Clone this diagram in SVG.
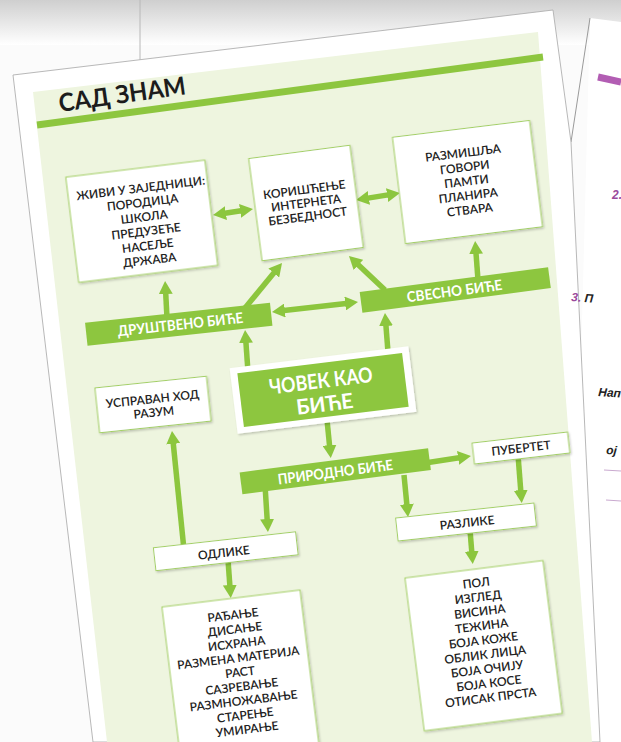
<svg xmlns="http://www.w3.org/2000/svg" width="621" height="742" viewBox="0 0 621 742">
<defs>
<style>
.box{fill:#fff;stroke:#a3cf63;stroke-width:1;filter:url(#sh)}
.bar{fill:#8dc63f}
.t{font-family:Lato,"Liberation Sans",sans-serif;font-size:12px;font-weight:600;fill:#222;text-anchor:middle}
.bt{font-family:Lato,"Liberation Sans",sans-serif;font-size:14.5px;font-weight:700;fill:#fff;text-anchor:middle}
.ar{stroke:#8cc63e;stroke-width:5.5;fill:none;marker-end:url(#ah)}
.dar{stroke:#8cc63e;stroke-width:5.5;fill:none;marker-end:url(#ah);marker-start:url(#ah)}
.np{font-family:"Liberation Sans",sans-serif;font-size:12px;font-weight:700;font-style:italic;fill:#222}
.pu{fill:#9a4a9c}
</style>
<marker id="ah" viewBox="0 0 14 14" refX="1" refY="7" markerWidth="14" markerHeight="14" markerUnits="userSpaceOnUse" orient="auto-start-reverse">
<path d="M0,0 L13,7 L0,14 z" fill="#8cc63e"/>
</marker>
<filter id="sh" x="-10%" y="-10%" width="125%" height="130%">
<feDropShadow dx="1" dy="1.5" stdDeviation="1" flood-color="#000" flood-opacity="0.22"/>
</filter>
<linearGradient id="topg" x1="0" y1="0" x2="0" y2="1">
<stop offset="0" stop-color="#cfcfcf"/>
<stop offset="1" stop-color="#ffffff"/>
</linearGradient>
</defs>

<g id="background">
<rect x="0" y="0" width="621" height="742" fill="#fbfbfb"/>
<rect x="0" y="0" width="621" height="45" fill="url(#topg)"/>
<line x1="140" y1="0" x2="140" y2="64" stroke="#b8b8b8" stroke-width="1"/>
<polygon points="590,18 621,22 621,742 571,742" fill="#ffffff"/>
<line x1="590" y1="18" x2="571" y2="142" stroke="#9a9a9a" stroke-width="1"/>
<line x1="598" y1="77" x2="621" y2="82" stroke="#b25db3" stroke-width="7"/>
<line x1="604" y1="470" x2="621" y2="471" stroke="#c9a9cf" stroke-width="1"/>
<line x1="606" y1="500" x2="621" y2="501" stroke="#c9a9cf" stroke-width="1"/>
</g>

<g id="page">
<polygon points="13,75 553,10 571,142 600,742 93,742" fill="#ffffff" stroke="#b0b0b0" stroke-width="0.9"/>
<polygon points="33,92 538,32 592,742 107,742" fill="#eef5df"/>
<line x1="37" y1="125" x2="543" y2="57" stroke="#8dc63f" stroke-width="7"/>
<text x="60" y="112" transform="rotate(-8 60 112)" font-family="Lato,'Liberation Sans',sans-serif" font-size="25" font-weight="700" fill="#1c1c1c" textLength="128" lengthAdjust="spacingAndGlyphs">САД ЗНАМ</text>
</g>

<g id="next-page-text">
<text class="np pu" x="612" y="199" font-size="11">2.</text>
<text class="np" x="571" y="301" transform="rotate(4 571 301)"><tspan class="pu">3.</tspan> П</text>
<text class="np" x="598" y="396" transform="rotate(4 598 396)">Нап</text>
<text class="np" x="606" y="454" transform="rotate(4 606 454)">oj</text>
</g>

<g id="connectors">
<line class="ar" x1="167" y1="318" x2="165.7" y2="293"/>
<line class="ar" x1="245" y1="308" x2="274.4" y2="272.3"/>
<line class="dar" x1="283.9" y1="310.6" x2="346.1" y2="303.4"/>
<line class="ar" x1="248" y1="372" x2="245.9" y2="342"/>
<line class="ar" x1="388" y1="352" x2="385.9" y2="325"/>
<line class="ar" x1="385" y1="290" x2="357.7" y2="264.2"/>
<line class="ar" x1="478" y1="280" x2="476" y2="253"/>
<line class="dar" x1="224.9" y1="213.2" x2="241.1" y2="210.8"/>
<line class="dar" x1="367.9" y1="198.1" x2="388.1" y2="194.9"/>
<line class="ar" x1="327" y1="420" x2="329.6" y2="446.1"/>
<line class="ar" x1="425" y1="463" x2="459.1" y2="457.8"/>
<line class="ar" x1="518" y1="455" x2="520.8" y2="491.1"/>
<line class="ar" x1="404" y1="475" x2="406.9" y2="505.1"/>
<line class="ar" x1="265" y1="485" x2="267.2" y2="520"/>
<line class="ar" x1="184" y1="550" x2="173.2" y2="442.9"/>
<line class="ar" x1="470" y1="530" x2="471.8" y2="552.1"/>
<line class="ar" x1="228" y1="560" x2="229.9" y2="586"/>
</g>

<g id="node-zivi" transform="translate(141.75,221.25) rotate(-7)">
<rect class="box" x="-70" y="-53" width="140" height="106"/>
<text class="t" x="3" y="-28.8">ЖИВИ У ЗАЈЕДНИЦИ:</text>
<text class="t" x="3" y="-14.3">ПОРОДИЦА</text>
<text class="t" x="3" y="0.2">ШКОЛА</text>
<text class="t" x="3" y="14.7">ПРЕДУЗЕЋЕ</text>
<text class="t" x="3" y="29.2">НАСЕЉЕ</text>
<text class="t" x="3" y="43.7">ДРЖАВА</text>
</g>

<g id="node-koriscenje" transform="translate(306,203) rotate(-7.5)">
<rect class="box" x="-51" y="-51.5" width="102" height="103"/>
<text class="t" x="0" y="-9.3">КОРИШЋЕЊЕ</text>
<text class="t" x="0" y="4.2">ИНТЕРНЕТА</text>
<text class="t" x="0" y="17.7">БЕЗБЕДНОСТ</text>
</g>

<g id="node-razmislja" transform="translate(467.5,182) rotate(-7)">
<rect class="box" x="-69" y="-53.5" width="138" height="107"/>
<text class="t" x="-1" y="-25.1">РАЗМИШЉА</text>
<text class="t" x="-1" y="-10.8">ГОВОРИ</text>
<text class="t" x="-1" y="3.5">ПАМТИ</text>
<text class="t" x="-1" y="17.8">ПЛАНИРА</text>
<text class="t" x="-1" y="32.1">СТВАРА</text>
</g>

<g id="node-drustveno" transform="translate(178.75,324.25) rotate(-6.2)">
<rect class="bar" x="-93" y="-11.5" width="186" height="23"/>
<text class="bt" x="1.5" y="5.4" textLength="126" lengthAdjust="spacingAndGlyphs">ДРУШТВЕНО БИЋЕ</text>
</g>

<g id="node-svesno" transform="translate(455.25,290) rotate(-7.5)">
<rect class="bar" x="-95" y="-10.5" width="190" height="21"/>
<text class="bt" x="-1" y="6" textLength="96" lengthAdjust="spacingAndGlyphs">СВЕСНО БИЋЕ</text>
</g>

<g id="node-covek" transform="translate(323,390) rotate(-7)">
<rect x="-90" y="-33" width="180" height="66" fill="#fff" filter="url(#sh)"/>
<rect class="bar" x="-83" y="-27" width="166" height="54"/>
<text class="bt" x="-1" y="-2" style="font-size:21px" textLength="104" lengthAdjust="spacingAndGlyphs">ЧОВЕК КАО</text>
<text class="bt" x="0" y="21.5" style="font-size:21px">БИЋЕ</text>
</g>

<g id="node-uspravan" transform="translate(153,404.5) rotate(-6)">
<rect class="box" x="-56" y="-22.5" width="112" height="45"/>
<text class="t" x="0" y="-1.3">УСПРАВАН ХОД</text>
<text class="t" x="0" y="12.2">РАЗУМ</text>
</g>

<g id="node-prirodno" transform="translate(335.25,471.25) rotate(-7.3)">
<rect class="bar" x="-95" y="-11" width="190" height="22"/>
<text class="bt" x="0" y="6" textLength="116" lengthAdjust="spacingAndGlyphs">ПРИРОДНО БИЋЕ</text>
</g>

<g id="node-pubertet" transform="translate(521,448) rotate(-6.6)">
<rect class="box" x="-48" y="-10.5" width="96" height="21"/>
<text class="t" x="0" y="4.3">ПУБЕРТЕТ</text>
</g>

<g id="node-razlike" transform="translate(466,522) rotate(-6.2)">
<rect class="box" x="-69.5" y="-11.5" width="139" height="23"/>
<text class="t" x="1" y="5">РАЗЛИКЕ</text>
</g>

<g id="node-odlike" transform="translate(225.75,551.25) rotate(-6.4)">
<rect class="box" x="-71.5" y="-11.5" width="143" height="23"/>
<text class="t" x="-2" y="5.5">ОДЛИКЕ</text>
</g>

<g id="node-radjanje" transform="translate(162,607) rotate(-7)">
<rect class="box" x="0" y="0" width="139" height="170"/>
<text class="t" x="69.5" y="20.8">РАЂАЊЕ</text>
<text class="t" x="69.5" y="35.2">ДИСАЊЕ</text>
<text class="t" x="69.5" y="49.6">ИСХРАНА</text>
<text class="t" x="69.5" y="64">РАЗМЕНА МАТЕРИЈА</text>
<text class="t" x="69.5" y="78.4">РАСТ</text>
<text class="t" x="69.5" y="92.8">САЗРЕВАЊЕ</text>
<text class="t" x="69.5" y="107.2">РАЗМНОЖАВАЊЕ</text>
<text class="t" x="69.5" y="121.6">СТАРЕЊЕ</text>
<text class="t" x="69.5" y="136">УМИРАЊЕ</text>
</g>

<g id="node-pol" transform="translate(405,578) rotate(-7.2)">
<rect class="box" x="0" y="0" width="139" height="154"/>
<text class="t" x="70" y="18">ПОЛ</text>
<text class="t" x="70" y="32.45">ИЗГЛЕД</text>
<text class="t" x="70" y="46.9">ВИСИНА</text>
<text class="t" x="70" y="61.35">ТЕЖИНА</text>
<text class="t" x="70" y="75.8">БОЈА КОЖЕ</text>
<text class="t" x="70" y="90.25">ОБЛИК ЛИЦА</text>
<text class="t" x="70" y="104.7">БОЈА ОЧИЈУ</text>
<text class="t" x="70" y="119.15">БОЈА КОСЕ</text>
<text class="t" x="70" y="133.6">ОТИСАК ПРСТА</text>
</g>
</svg>
